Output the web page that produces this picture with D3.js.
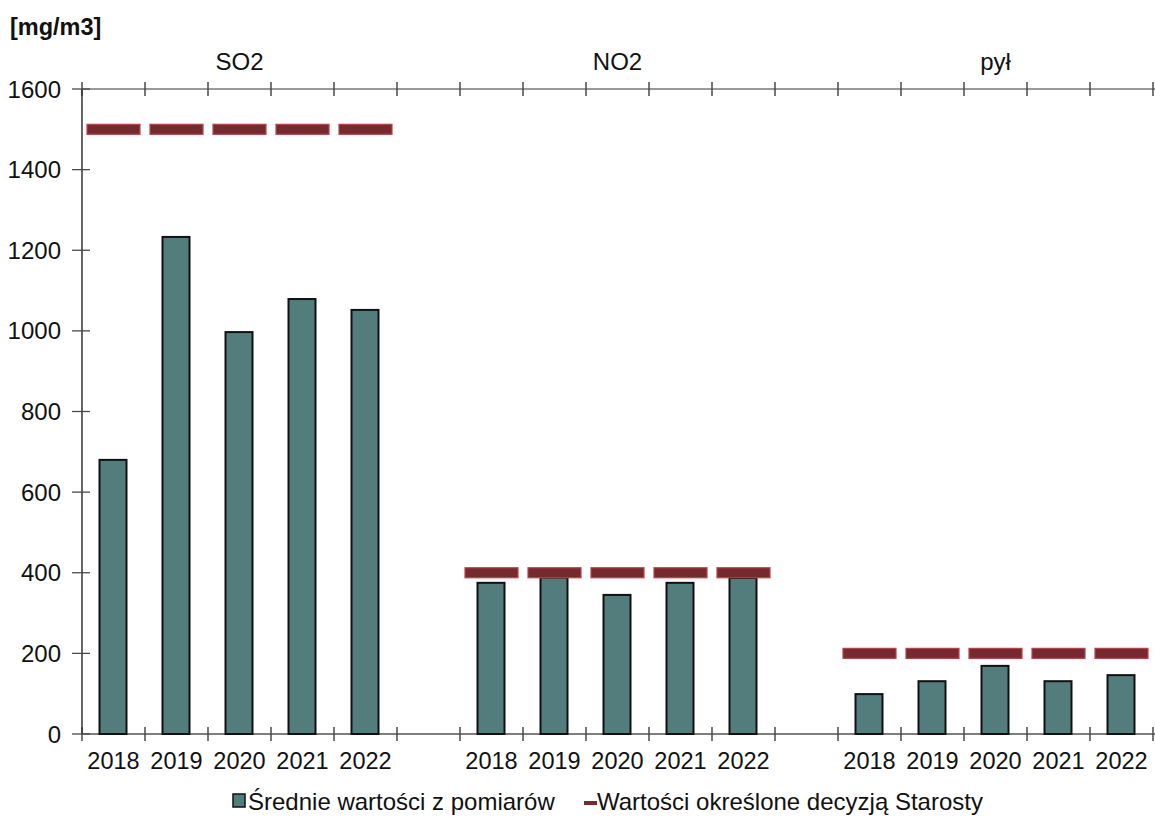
<!DOCTYPE html>
<html>
<head>
<meta charset="utf-8">
<script src="https://cdn.jsdelivr.net/npm/d3@7"></script>
<style>
  html, body { margin: 0; padding: 0; background: #fff; }
  svg { display: block; font-family: "Liberation Sans", Arial, sans-serif; }
</style>
</head>
<body>
<svg id="chart" width="1155" height="817"></svg>
<script>
// ---- data ----
const groups = ["SO2", "NO2", "pył"];
const years = ["2018", "2019", "2020", "2021", "2022"];
const so2Measured = [680, 1233, 997, 1079, 1052];
const no2Measured = [375, 388, 345, 375, 387];
const dustMeasured = [99, 131, 169, 131, 146];
const so2Limit = [1500, 1500, 1500, 1500, 1500];
const no2Limit = [400, 400, 400, 400, 400];
const dustLimit = [200, 200, 200, 200, 200];
const yTicks = [0, 200, 400, 600, 800, 1000, 1200, 1400, 1600];
const unitLabel = "[mg/m3]";
const legendLabels = ["Średnie wartości z pomiarów", "Wartości określone decyzją Starosty"];

const measuredByGroup = [so2Measured, no2Measured, dustMeasured];
const limitByGroup = [so2Limit, no2Limit, dustLimit];

// ---- build slots: 5 years per group, one empty slot between groups ----
const slots = [];
groups.forEach((g, gi) => {
  years.forEach((yr, yi) => slots.push({ key: g + "-" + yr, group: g, year: yr, measured: measuredByGroup[gi][yi], limit: limitByGroup[gi][yi] }));
  if (gi < groups.length - 1) slots.push({ key: "gap" + gi, gap: true });
});

const svg = d3.select("#chart");
const x = d3.scaleBand().domain(slots.map(d => d.key)).range([82, 1153]).padding(0);
const y = d3.scaleLinear().domain([0, 1600]).range([734, 89]);
const bw = x.bandwidth();

const axisColor = "#4a4a4a";
const fs = 24;

// top line at max and baseline
svg.append("line").attr("x1", 82).attr("x2", 1155).attr("y1", y(1600)).attr("y2", y(1600))
  .attr("stroke", "#777").attr("stroke-width", 1.5);
svg.append("line").attr("x1", 82).attr("x2", 1155).attr("y1", y(0)).attr("y2", y(0))
  .attr("stroke", "#555").attr("stroke-width", 1.5);

// slot boundary ticks (top and bottom)
const boundaries = slots.map(d => x(d.key)).concat([x(slots[slots.length - 1].key) + bw]);
svg.append("g").selectAll("line.tt").data(boundaries).join("line")
  .attr("x1", d => d).attr("x2", d => d).attr("y1", y(1600) - 7).attr("y2", y(1600) + 7)
  .attr("stroke", axisColor).attr("stroke-width", 1.5);
svg.append("g").selectAll("line.bt").data(boundaries).join("line")
  .attr("x1", d => d).attr("x2", d => d).attr("y1", y(0) - 7).attr("y2", y(0) + 7)
  .attr("stroke", axisColor).attr("stroke-width", 1.5);

// y axis
svg.append("line").attr("x1", 82).attr("x2", 82).attr("y1", y(0)).attr("y2", y(1600))
  .attr("stroke", "#333").attr("stroke-width", 1.5);
const yg = svg.append("g");
yg.selectAll("line").data(yTicks).join("line")
  .attr("x1", 72).attr("x2", 90).attr("y1", d => y(d)).attr("y2", d => y(d))
  .attr("stroke", axisColor).attr("stroke-width", 1.3);
yg.selectAll("text").data(yTicks).join("text")
  .attr("x", 61).attr("y", d => y(d) + 8.5).attr("text-anchor", "end")
  .attr("font-size", fs).attr("fill", "#111").text(d => d);

// bars
const data = slots.filter(d => !d.gap);
svg.append("g").selectAll("rect").data(data).join("rect")
  .attr("x", d => x(d.key) + 17.5).attr("width", 27)
  .attr("y", d => y(d.measured)).attr("height", d => y(0) - y(d.measured))
  .attr("fill", "#537c7c").attr("stroke", "#111").attr("stroke-width", 2);

// limit dashes
svg.append("g").selectAll("rect").data(data).join("rect")
  .attr("x", d => x(d.key) + 5).attr("width", bw - 10)
  .attr("y", d => y(d.limit) - 5).attr("height", 10)
  .attr("fill", "#762a2f").attr("stroke", "#b8434b").attr("stroke-width", 1.2);

// year labels
svg.append("g").selectAll("text").data(data).join("text")
  .attr("x", d => x(d.key) + bw / 2).attr("y", 768.5).attr("text-anchor", "middle")
  .attr("font-size", 23.5).attr("fill", "#111").text(d => d.year);

// group labels
svg.append("g").selectAll("text").data(groups).join("text")
  .attr("x", g => x(g + "-" + years[2]) + bw / 2).attr("y", 70).attr("text-anchor", "middle")
  .attr("font-size", fs).attr("fill", "#111").text(g => g);

// unit label
svg.append("text").attr("x", 10).attr("y", 35).attr("font-size", 23.5).attr("font-weight", "bold")
  .attr("fill", "#111").text(unitLabel);

// legend
const lg = svg.append("g");
lg.append("rect").attr("x", 233).attr("y", 794).attr("width", 12).attr("height", 13)
  .attr("fill", "#537c7c").attr("stroke", "#111").attr("stroke-width", 1.5);
lg.append("text").attr("x", 248).attr("y", 810).attr("font-size", fs).attr("fill", "#111").text(legendLabels[0]);
lg.append("rect").attr("x", 584).attr("y", 801).attr("width", 13).attr("height", 4).attr("fill", "#762a2f");
lg.append("text").attr("x", 597).attr("y", 810).attr("font-size", fs).attr("fill", "#111").text(legendLabels[1]);
</script>
</body>
</html>
